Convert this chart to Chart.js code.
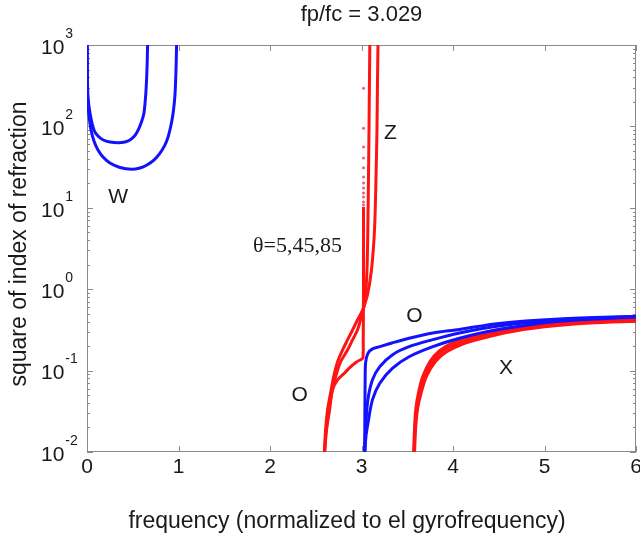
<!DOCTYPE html>
<html>
<head>
<meta charset="utf-8">
<script src="https://cdn.jsdelivr.net/npm/chart.js@4.4.1/dist/chart.umd.min.js"></script>
<style>
  html, body { margin: 0; padding: 0; background: #ffffff; }
  #wrap { width: 640px; height: 541px; }
</style>
</head>
<body>
<div id="wrap"><canvas id="c" width="640" height="541"></canvas></div>
<script>
// Refractive index squared vs. normalized frequency, fp/fc = 3.029,
// wave-normal angles 5, 45 and 85 degrees.

// Whistler branch (below the gyrofrequency)
const whistlerWide = [[0.002,1000],[0.003,493],[0.0055,232],[0.019,145],[0.044,90.4],[0.076,66.2],[0.12,51.3],[0.175,42.1],[0.251,35.5],[0.36,31.3],[0.488,29.7],[0.578,30.8],[0.655,33.6],[0.731,38.6],[0.796,46.7],[0.851,59],[0.887,74.7],[0.916,101],[0.941,145],[0.96,230],[0.969,372],[0.975,618],[0.979,1000]];
const whistlerNarrow = [[0.002,1000],[0.0033,493],[0.011,232],[0.033,145],[0.076,90.4],[0.12,76.2],[0.178,68],[0.251,64.3],[0.341,63],[0.415,64.3],[0.469,68],[0.524,77.3],[0.56,90.4],[0.595,113],[0.622,145],[0.640,230],[0.651,372],[0.658,618],[0.662,1000]];

// Z mode: lower branches from the L cutoff, upper branches up to resonance
const zModeA = [[2.596,0.01],[2.607,0.0186],[2.629,0.0328],[2.662,0.0531],[2.695,0.0834],[2.738,0.1276],[2.793,0.179],[2.847,0.238],[2.902,0.315],[2.956,0.419],[3.022,0.587],[3.044,0.849],[3.06,1.72],[3.069,5.33],[3.076,22],[3.082,90],[3.087,372],[3.091,1000]];
const zModeB = [[2.596,0.01],[2.613,0.0186],[2.640,0.0328],[2.673,0.0531],[2.716,0.0834],[2.771,0.1276],[2.847,0.179],[2.902,0.238],[2.956,0.315],[2.989,0.419],[3.022,0.587],[3.065,0.849],[3.109,1.72],[3.142,5.33],[3.158,22],[3.169,90],[3.175,372],[3.18,1000]];
const zModeC = [[2.596,0.01],[2.618,0.0186],[2.651,0.0328],[2.684,0.0578],[2.738,0.0767],[2.815,0.0935],[2.880,0.1108],[2.945,0.1276],[2.995,0.137],[3.016,0.143],[3.019,0.25],[3.021,0.587],[3.022,2.29],[3.022,10.2]];
// sparse samples of the 5-degree branch close to its resonance
const zModeCSamples = [[3.022,10.8],[3.022,11.8],[3.022,13.6],[3.022,15.2],[3.022,17.5],[3.022,20.2],[3.022,23.9],[3.022,31],[3.022,41],[3.022,56],[3.022,95],[3.022,295]];

// O mode above the plasma frequency
const oModeA = [[3.035,0.01],[3.037,0.03],[3.04,0.08],[3.045,0.125],[3.07,0.163],[3.12,0.185],[3.2,0.197],[3.34,0.22],[3.52,0.25],[3.78,0.29],[4.07,0.32],[4.5,0.38],[5.16,0.43],[6.0,0.465]];
const oModeB = [[3.035,0.01],[3.045,0.02],[3.07,0.044],[3.12,0.077],[3.2,0.112],[3.34,0.157],[3.52,0.197],[3.78,0.24],[4.07,0.29],[4.5,0.353],[5.16,0.42],[6.0,0.46]];
const oModeC = [[3.035,0.01],[3.05,0.016],[3.07,0.0224],[3.12,0.044],[3.2,0.07],[3.34,0.107],[3.52,0.148],[3.78,0.197],[4.07,0.25],[4.5,0.32],[5.16,0.405],[6.0,0.455]];

// X mode above the R cutoff
const xModeA = [[3.57,0.01],[3.58,0.02],[3.595,0.035],[3.625,0.055],[3.67,0.085],[3.75,0.13],[3.85,0.175],[4.0,0.22],[4.2,0.265],[4.5,0.32],[5.0,0.375],[5.5,0.405],[6.0,0.425]];
const xModeB = [[3.575,0.01],[3.585,0.02],[3.605,0.035],[3.64,0.055],[3.69,0.085],[3.78,0.13],[3.89,0.175],[4.05,0.215],[4.25,0.255],[4.55,0.305],[5.0,0.36],[5.5,0.395],[6.0,0.415]];
const xModeC = [[3.58,0.01],[3.592,0.02],[3.615,0.035],[3.655,0.055],[3.71,0.085],[3.81,0.13],[3.93,0.17],[4.1,0.21],[4.3,0.245],[4.6,0.295],[5.0,0.345],[5.5,0.385],[6.0,0.405]];

// Axis ticks
const xTicks = [0, 1, 2, 3, 4, 5, 6];
const yExponents = [-2, -1, 0, 1, 2, 3];

// Branch names placed in data coordinates
const branchLabels = [
  { text: 'W', x: 0.34, y: 13.6 },
  { text: 'Z', x: 3.316, y: 83 },
  { text: 'O', x: 3.578, y: 0.469 },
  { text: 'O', x: 2.324, y: 0.05 },
  { text: 'X', x: 4.58, y: 0.108 }
];
const angleLabel = { text: '\u03b8=5,45,85', x: 2.30, y: 3.4 };

const titleText = 'fp/fc = 3.029';
const xTitle = 'frequency (normalized to el gyrofrequency)';
const yTitle = 'square of index of refraction';

const BLUE = '#1212ff';
const RED = '#ff1414';
const FRAME = '#8a8a8a';
const SANS = '"Liberation Sans", Arial, sans-serif';

const toXY = arr => arr.map(p => ({ x: p[0], y: p[1] }));
const curve = (arr, color) => ({
  data: toXY(arr), borderColor: color, borderWidth: 3, pointRadius: 0,
  tension: 0.3, fill: false, borderJoinStyle: 'round'
});

const datasets = [
  curve(whistlerWide, BLUE),
  curve(whistlerNarrow, BLUE),
  curve(oModeC, BLUE),
  curve(oModeB, BLUE),
  curve(oModeA, BLUE),
  curve(xModeC, RED),
  curve(xModeB, RED),
  curve(xModeA, RED),
  curve(zModeC, RED),
  curve(zModeB, RED),
  curve(zModeA, RED),
  {
    data: toXY(zModeCSamples), showLine: false, pointRadius: 1.5,
    pointBackgroundColor: 'rgba(240,50,90,0.8)', pointBorderWidth: 0
  }
];

// Box, inward ticks and all text
const decorations = {
  id: 'decorations',
  beforeDatasetsDraw(chart) {
    const { ctx, chartArea: a, scales: { x, y } } = chart;
    ctx.save();
    ctx.strokeStyle = FRAME;
    ctx.lineWidth = 1;
    ctx.strokeRect(a.left + 0.5, a.top + 0.5, a.right - a.left - 1, a.bottom - a.top - 1);
    ctx.beginPath();
    xTicks.forEach(v => {
      const px = Math.round(x.getPixelForValue(v)) + 0.5;
      ctx.moveTo(px, a.bottom); ctx.lineTo(px, a.bottom - 6);
      ctx.moveTo(px, a.top); ctx.lineTo(px, a.top + 6);
    });
    for (let e = -2; e <= 2; e++) {
      for (let m = 1; m <= 9; m++) {
        const py = Math.round(y.getPixelForValue(m * Math.pow(10, e))) + 0.5;
        const len = m === 1 ? 6 : 3;
        ctx.moveTo(a.left, py); ctx.lineTo(a.left + len, py);
        ctx.moveTo(a.right, py); ctx.lineTo(a.right - len, py);
      }
    }
    ctx.stroke();
    ctx.restore();
  },
  afterDraw(chart) {
    const { ctx, chartArea: a, scales: { x, y } } = chart;
    ctx.save();
    ctx.fillStyle = '#1a1a1a';

    // title
    ctx.font = '22px ' + SANS;
    ctx.textAlign = 'center';
    ctx.textBaseline = 'middle';
    ctx.fillText(titleText, (a.left + a.right) / 2, 15);

    // x tick labels
    ctx.font = '21px ' + SANS;
    ctx.textBaseline = 'middle';
    xTicks.forEach(v => ctx.fillText(String(v), x.getPixelForValue(v), 467));

    // y tick labels: 10 with a raised exponent
    yExponents.forEach(e => {
      const py = y.getPixelForValue(Math.pow(10, e));
      ctx.font = '21px ' + SANS;
      ctx.textAlign = 'left';
      ctx.textBaseline = 'middle';
      ctx.fillText('10', 41, py + 3);
      const w = ctx.measureText('10').width;
      ctx.font = '14px ' + SANS;
      ctx.fillText(e < 0 ? '-' + Math.abs(e) : String(e), 41 + w + 1, py - 11);
    });

    // axis titles
    ctx.font = '23px ' + SANS;
    ctx.textAlign = 'center';
    ctx.textBaseline = 'middle';
    ctx.fillText(xTitle, 347, 522);
    ctx.save();
    ctx.translate(20, 244);
    ctx.rotate(-Math.PI / 2);
    ctx.fillText(yTitle, 0, 0);
    ctx.restore();

    // branch names
    ctx.font = '21px ' + SANS;
    branchLabels.forEach(l => ctx.fillText(l.text, x.getPixelForValue(l.x), y.getPixelForValue(l.y)));
    ctx.font = '22px "Liberation Serif", "Times New Roman", serif';
    ctx.fillText(angleLabel.text, x.getPixelForValue(angleLabel.x), y.getPixelForValue(angleLabel.y));
    ctx.restore();
  }
};

new Chart(document.getElementById('c'), {
  type: 'line',
  data: { datasets },
  options: {
    responsive: false,
    animation: false,
    layout: { padding: { top: 45, right: 3, left: 0, bottom: 0 } },
    plugins: { legend: { display: false }, tooltip: { enabled: false }, title: { display: false } },
    scales: {
      x: {
        type: 'linear', min: 0, max: 6,
        grid: { display: false }, border: { display: false }, ticks: { display: false },
        afterFit(s) { s.height = 89; }
      },
      y: {
        type: 'logarithmic', min: 0.01, max: 1000,
        grid: { display: false }, border: { display: false }, ticks: { display: false },
        afterFit(s) { s.width = 87; }
      }
    }
  },
  plugins: [decorations]
});
</script>
</body>
</html>
